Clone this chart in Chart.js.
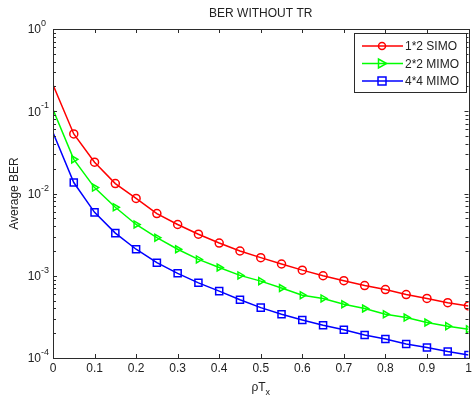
<!DOCTYPE html>
<html>
<head>
<meta charset="utf-8">
<script src="https://cdn.jsdelivr.net/npm/chart.js@4/dist/chart.umd.min.js"></script>
<style>
  body { margin: 0; background: #fff; }
  canvas { display: block; }
</style>
</head>
<body>
<canvas id="chart" width="475" height="401"></canvas>
<script>
// x axis: pT_x
const xValues = [0, 0.05, 0.1, 0.15, 0.2, 0.25, 0.3, 0.35, 0.4, 0.45, 0.5,
  0.55, 0.6, 0.65, 0.7, 0.75, 0.8, 0.85, 0.9, 0.95, 1];

// BER curves
const simo12 = [0.21, 0.053, 0.024, 0.0132, 0.0087, 0.0057, 0.0042, 0.0032, 0.0025, 0.0020, 0.00166,
  0.00139, 0.00117, 0.00100, 0.00087, 0.00076, 0.00068, 0.00059, 0.00053, 0.00047, 0.00043];
const mimo22 = [0.105, 0.026, 0.0118, 0.0068, 0.0042, 0.0029, 0.0021, 0.00158, 0.00126, 0.00101, 0.00086,
  0.00071, 0.00058, 0.00053, 0.00045, 0.00040, 0.00034, 0.00031, 0.00027, 0.000244, 0.000223];
const mimo44 = [0.055, 0.0136, 0.0059, 0.0033, 0.0021, 0.00144, 0.00107, 0.00082, 0.00065, 0.00051, 0.00041,
  0.00034, 0.00029, 0.00025, 0.00022, 0.00019, 0.00017, 0.000148, 0.000134, 0.000120, 0.000109];

const seriesNames = ["1*2 SIMO", "2*2 MIMO", "4*4 MIMO"];
const xTicks = [0, 0.1, 0.2, 0.3, 0.4, 0.5, 0.6, 0.7, 0.8, 0.9, 1];
const xTickLabels = ["0", "0.1", "0.2", "0.3", "0.4", "0.5", "0.6", "0.7", "0.8", "0.9", "1"];
const yTickExps = [0, -1, -2, -3, -4];

const FONT = "Liberation Sans, Arial, Helvetica, sans-serif";
const TEXT = "#222";
const AXIS = "#2b2b2b";

function toPoints(ys) {
  return xValues.map((x, i) => ({ x: x, y: ys[i] }));
}

function makeSet(label, ys, color, style, rot) {
  return {
    label: label,
    data: toPoints(ys),
    borderColor: color,
    backgroundColor: "rgba(0,0,0,0)",
    borderWidth: 1.5,
    pointStyle: style,
    pointRotation: rot,
    // no marker on the first sample, like the original figure
    pointRadius: (c) => (c.dataIndex === 0 ? 0 : (style === "rect" ? 5 : 4)),
    pointBorderWidth: 1.5,
    pointBorderColor: color,
    pointBackgroundColor: "rgba(0,0,0,0)",
    tension: 0,
  };
}

// MATLAB-like frame: box, inward ticks, labels, legend
const matlabFrame = {
  id: "matlabFrame",
  afterDraw(chart) {
    const { ctx, chartArea: a, scales } = chart;
    const xs = scales.x, ys = scales.y;
    ctx.save();

    // box
    ctx.strokeStyle = AXIS;
    ctx.lineWidth = 1;
    ctx.strokeRect(Math.round(a.left) + 0.5, Math.round(a.top) + 0.5,
      Math.round(a.right - a.left), Math.round(a.bottom - a.top));

    // x ticks (top and bottom, inward)
    ctx.beginPath();
    xTicks.forEach((v) => {
      const px = Math.round(xs.getPixelForValue(v)) + 0.5;
      ctx.moveTo(px, a.bottom); ctx.lineTo(px, a.bottom - 4);
      ctx.moveTo(px, a.top); ctx.lineTo(px, a.top + 4);
    });
    // y ticks, majors and minors, both sides
    yTickExps.forEach((e) => {
      for (let m = 1; m <= 9; m++) {
        if (e === 0 && m > 1) break;
        const py = Math.round(ys.getPixelForValue(m * Math.pow(10, e))) + 0.5;
        const len = m === 1 ? 4 : 3;
        ctx.moveTo(a.left, py); ctx.lineTo(a.left + len, py);
        ctx.moveTo(a.right, py); ctx.lineTo(a.right - len, py);
      }
    });
    ctx.stroke();

    ctx.fillStyle = TEXT;

    // x tick labels
    ctx.font = "12px " + FONT;
    ctx.textAlign = "center";
    ctx.textBaseline = "top";
    xTicks.forEach((v, i) => {
      ctx.fillText(xTickLabels[i], xs.getPixelForValue(v), a.bottom + 5);
    });

    // y tick labels 10^e
    yTickExps.forEach((e) => {
      const py = ys.getPixelForValue(Math.pow(10, e));
      ctx.font = "12px " + FONT;
      ctx.textAlign = "right";
      ctx.textBaseline = "middle";
      ctx.fillText("10", 41, py + 1);
      ctx.font = "9px " + FONT;
      ctx.textAlign = "left";
      ctx.textBaseline = "alphabetic";
      ctx.fillText(String(e), 41, py - 3);
    });

    // title
    ctx.font = "12px " + FONT;
    ctx.textAlign = "center";
    ctx.textBaseline = "middle";
    ctx.fillText("BER WITHOUT TR", (a.left + a.right) / 2, 14);

    // y label
    ctx.save();
    ctx.translate(15, (a.top + a.bottom) / 2);
    ctx.rotate(-Math.PI / 2);
    ctx.fillText("Average BER", 0, 0);
    ctx.restore();

    // x label: ρT with subscript x
    const cx = (a.left + a.right) / 2;
    ctx.textAlign = "left";
    ctx.textBaseline = "alphabetic";
    ctx.font = "12px " + FONT;
    const main = "\u03C1T";
    const w = ctx.measureText(main).width;
    ctx.font = "9px " + FONT;
    const ws = ctx.measureText("x").width;
    const start = cx - (w + ws) / 2;
    ctx.font = "12px " + FONT;
    ctx.fillText(main, start, 391);
    ctx.font = "9px " + FONT;
    ctx.fillText("x", start + w, 395);

    // legend
    const lx = 354.5, ly = 33.5, lw = 112, lh = 59;
    ctx.fillStyle = "#fff";
    ctx.fillRect(lx, ly, lw, lh);
    ctx.strokeStyle = AXIS;
    ctx.lineWidth = 1;
    ctx.strokeRect(lx, ly, lw, lh);
    const rows = [46, 63.5, 81];
    chart.data.datasets.forEach((ds, i) => {
      const y = rows[i];
      ctx.strokeStyle = ds.borderColor;
      ctx.lineWidth = 1.5;
      ctx.beginPath();
      ctx.moveTo(362, y); ctx.lineTo(403, y);
      ctx.stroke();
      const mx = 382;
      ctx.beginPath();
      if (ds.pointStyle === "circle") {
        ctx.arc(mx, y, 3.5, 0, Math.PI * 2);
      } else if (ds.pointStyle === "triangle") {
        ctx.moveTo(mx + 4.5, y); ctx.lineTo(mx - 3.5, y - 4.5); ctx.lineTo(mx - 3.5, y + 4.5); ctx.closePath();
      } else {
        ctx.rect(mx - 4, y - 4, 8, 8);
      }
      ctx.stroke();
      ctx.fillStyle = TEXT;
      ctx.font = "12px " + FONT;
      ctx.textAlign = "left";
      ctx.textBaseline = "middle";
      ctx.fillText(ds.label, 405, y + 1);
    });

    ctx.restore();
  },
};

new Chart(document.getElementById("chart"), {
  type: "line",
  data: {
    datasets: [
      makeSet(seriesNames[0], simo12, "#ff0000", "circle", 0),
      makeSet(seriesNames[1], mimo22, "#00ff00", "triangle", 90),
      makeSet(seriesNames[2], mimo44, "#0000ff", "rect", 0),
    ],
  },
  options: {
    responsive: false,
    animation: false,
    layout: { padding: { left: 53, right: 3, top: 29, bottom: 43 } },
    plugins: { legend: { display: false }, tooltip: { enabled: false } },
    scales: {
      x: { type: "linear", min: 0, max: 1, display: false },
      y: { type: "logarithmic", min: 1e-4, max: 1, display: false },
    },
  },
  plugins: [matlabFrame],
});
</script>
</body>
</html>
